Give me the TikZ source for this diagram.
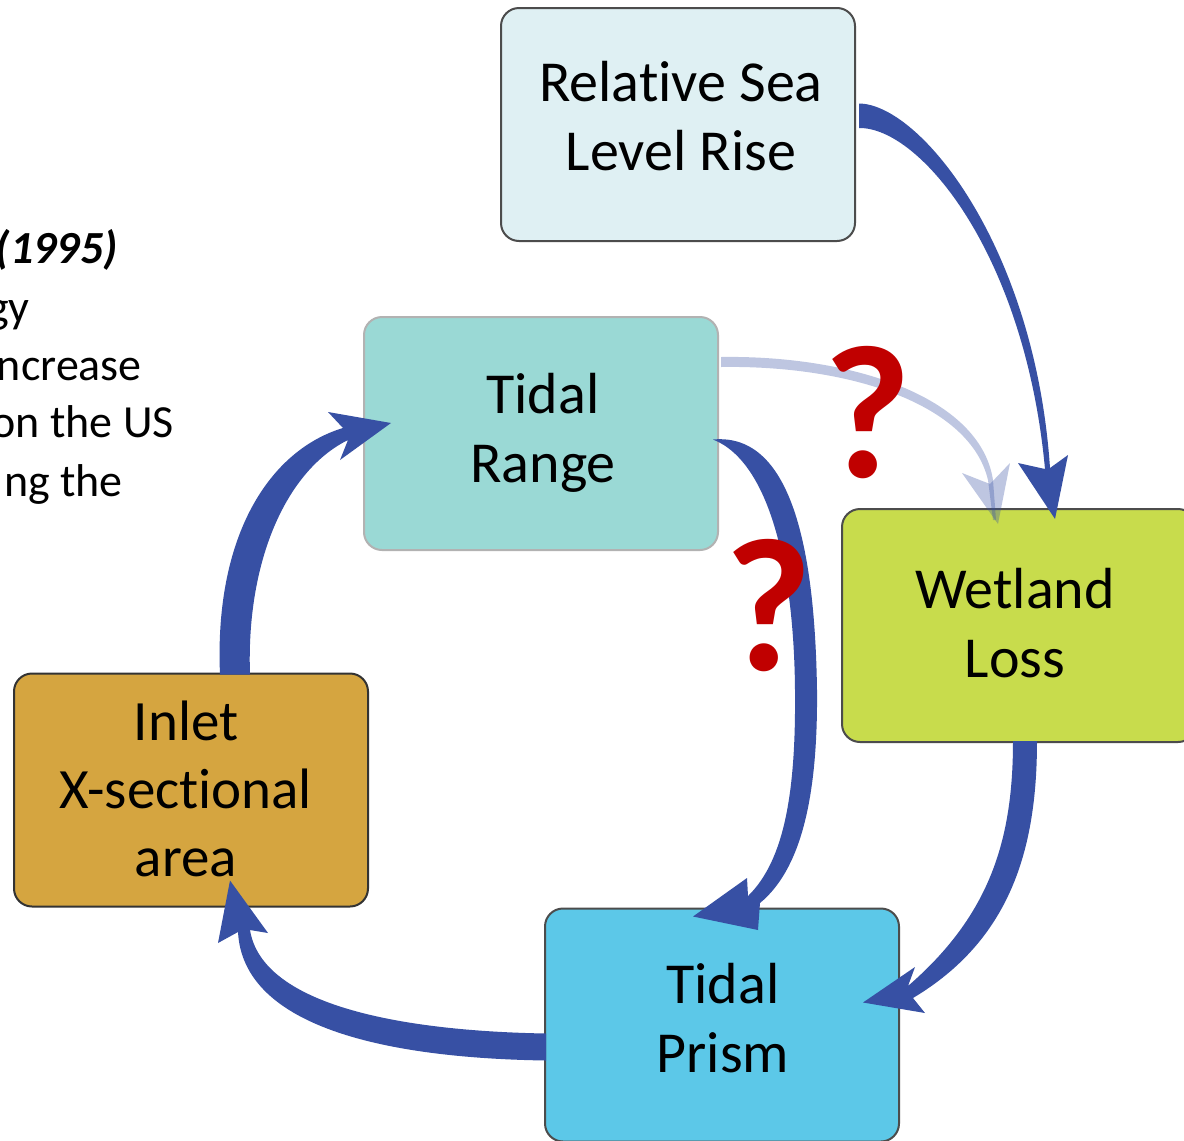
\documentclass[tikz,border=0pt]{standalone}
\usepackage{fontspec}
\setmainfont{Carlito}[Ligatures=NoCommon]
\usetikzlibrary{calc}
\definecolor{abl}{HTML}{3750A4}
\definecolor{qred}{HTML}{C00000}
\definecolor{frslr}{HTML}{DFF0F3}
\definecolor{ftr}{HTML}{9AD9D5}
\definecolor{fwet}{HTML}{C8DC4C}
\definecolor{finl}{HTML}{D5A540}
\definecolor{ftp}{HTML}{5CC8E8}
\begin{document}
\begin{tikzpicture}[x=1pt,y=-1pt,
  box/.style={draw=black!70, rounded corners=18pt, line width=2pt,
    minimum width=354pt, minimum height=233pt, inner sep=0pt},
  lbl/.style={font=\fontsize{58}{69}\selectfont, align=center, anchor=base, inner sep=0pt},
  side/.style={font=\fontsize{46}{58}\selectfont, anchor=base east, inner sep=0pt},
  qmark/.style={text=qred, font=\fontsize{190}{190}\selectfont\bfseries, anchor=base, inner sep=0pt},
  arr/.style={fill=abl, draw=none},
  larr/.style={fill=abl, fill opacity=0.32, draw=none}]
\useasboundingbox (0,0) rectangle (1184,1141);
\clip (0,0) rectangle (1184,1141);
\fill[white] (0,0) rectangle (1184,1141);

% boxes
\node[box, fill=frslr] (rslr) at (678,124.5) {};
\node[box, fill=ftr, draw=black!30] (tr) at (541,433.5) {};
\node[box, fill=fwet] (wet) at (1019,625.5) {};
\node[box, fill=finl, draw=black!80] (inl) at (191,790) {};
\node[box, fill=ftp] (tp) at (722,1025) {};

% side text (cut off at left, as in the reference)
\node[side, font=\fontsize{46}{58}\selectfont\bfseries\itshape] (s1) at (118,263) {(1995)};
\node[side] (s2) at (30,322) {gy};
\node[side] (s3) at (142,380) {ncrease};
\node[side] (s4) at (174,437) {on the US};
\node[side] (s5) at (123,496) {ng the};

% anchored arrow ends
\coordinate (a1o) at ($(rslr.east)+(3,-21)$);
\coordinate (a1i) at ($(rslr.east)+(3,3.5)$);
\coordinate (a1tip) at ($(wet.north)+(36,11)$);
\coordinate (a2o) at ($(tr.east)+(2,-76.5)$);
\coordinate (a2i) at ($(tr.east)+(2,-66.5)$);
\coordinate (a2tip) at ($(wet.north)+(-21,16)$);
\coordinate (a3t) at ($(tr.east)+(-6,6)$);
\coordinate (a3tip) at ($(tp.north)+(-29,9)$);
\coordinate (a4o) at ($(wet.south)+(18,-2)$);
\coordinate (a4i) at ($(wet.south)+(-6,-2)$);
\coordinate (a4tip) at ($(tp.east)+(-37,-22.5)$);
\coordinate (a5o) at ($(tp.west)+(2,35.5)$);
\coordinate (a5i) at ($(tp.west)+(2,8.5)$);
\coordinate (a5tip) at ($(inl.south)+(39,-27)$);
\coordinate (a6o) at ($(inl.north)+(29,2)$);
\coordinate (a6i) at ($(inl.north)+(59,2)$);
\coordinate (a6tip) at ($(tr.west)+(28,-10.5)$);

% light arrow: Tidal Range -> Wetland Loss
\path[larr] (a2o) .. controls (850,355) and (980,396) .. (993,480) -- (996,520) -- (993,520)
  -- (988,480) .. controls (970,404) and (850,365) .. (a2i) -- cycle;
\path[larr] (1010,463) -- (a2tip) -- (962,473) -- (990,484) -- cycle;

% RSLR -> Wetland Loss
\path[arr] (a1o) .. controls (920,104) and (1035,246) .. (1050,468) -- (1068,455) -- (a1tip)
  -- (1018,463) -- (1045,469) .. controls (1025,254) and (920,127) .. (a1i) -- cycle;

% Tidal Range -> Tidal Prism
\path[arr] (a3t) .. controls (795,432) and (815,560) .. (817,690)
  .. controls (818,800) and (800,870) .. (760,903) -- (758,930) -- (a3tip) -- (747,878)
  -- (748,896) .. controls (785,860) and (796,790) .. (795,690)
  .. controls (794,570) and (770,462) .. (a3t) -- cycle;

% Wetland Loss -> Tidal Prism
\path[arr] (a4o) .. controls (1037,850) and (1010,940) .. (913,998) -- (925,1013) -- (a4tip)
  -- (915,967) -- (908,986) .. controls (990,915) and (1013,840) .. (a4i) -- cycle;

% Tidal Prism -> Inlet
\path[arr] (a5o) .. controls (380,1058) and (243,1025) .. (238,932) -- (218,943) -- (a5tip)
  -- (268,933) -- (250,930) .. controls (262,1005) and (400,1031) .. (a5i) -- cycle;

% Inlet -> Tidal Range
\path[arr] (a6o) .. controls (214,535) and (270,450) .. (343,428) -- (328,412) -- (a6tip)
  -- (340,460) -- (348,440) .. controls (287,470) and (246,560) .. (a6i) -- cycle;

% question marks
\node[qmark] (q1) at (868,477) {?};
\node[qmark] (q2) at (769,670) {?};

% box labels
\node[lbl] (rslr-t) at (681,170) {Relative Sea\\Level Rise};
\node[lbl] (tr-t) at (543,482) {Tidal\\Range};
\node[lbl] (wet-t) at (1015,677) {Wetland\\Loss};
\node[lbl, font=\fontsize{57}{68}\selectfont] (inl-t) at (186,876) {Inlet\\X-sectional\\area};
\node[lbl] (tp-t) at (723,1072) {Tidal\\Prism};
\end{tikzpicture}
\end{document}
